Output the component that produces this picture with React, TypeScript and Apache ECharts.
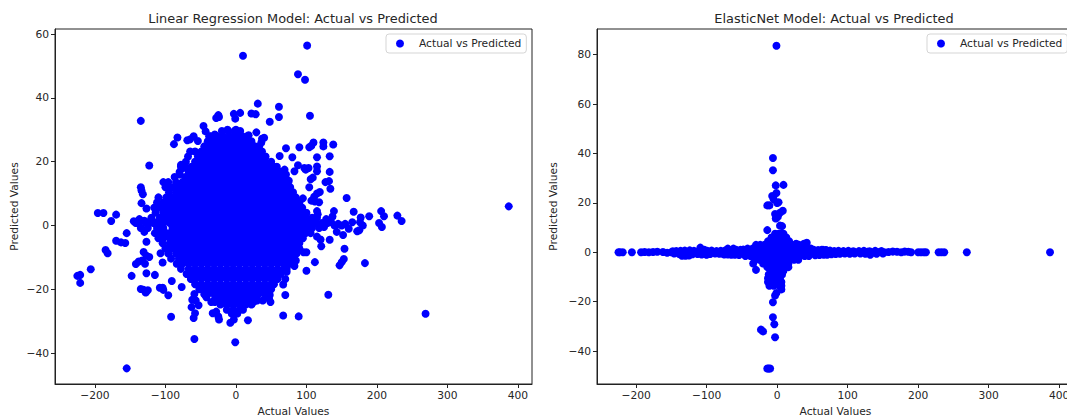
import React, { useEffect, useRef } from "react";
import * as echarts from "echarts";

const seriesName = "Actual vs Predicted";
const titles = ["Linear Regression Model: Actual vs Predicted", "ElasticNet Model: Actual vs Predicted"];
const xLabel = "Actual Values";
const yLabel = "Predicted Values";
const xTicks = [-200, -100, 0, 100, 200, 300, 400];
const yTicksLinear = [-40, -20, 0, 20, 40, 60];
const yTicksElastic = [-40, -20, 0, 20, 40, 60, 80];

// Linear regression: scattered points at the edge of the cloud [actual, predicted]
const linearOutliers = [
  [387,6],[269,-27.7],[10,53.2],[101,56.4],[88,47.4],[98,45.7],[31,38.2],[61,37.2],[61,34],[48,32.5],[105,34.4],[-135,32.8],[-123,18.8],[-155,-44.8],[-59,-35.6],[-1,-36.6],[17,-29.7],[67,-28.2],[89,-28.5],[-92,-28.6],[-60,-29],[-8,-30.5],[-3,-29.5],[131,-21.7],[70,-21.8],[183,-11.8],[100,-14.2],[112,-11.5],[157,8.6],[167,4.3],[189,2.9],[206,4.5],[210,2.9],[203,0.8],[207,-0.5],[229,3.1],[235,1.4],[177,2.5],[176,1],[180,0],[175,-1.5],[172,-1.8],[165,1],[160,-1],[150,0],[152,-3],[143,-2],[147,-12.5],[150,-11.5],[153,-10.5],[154,-7.3],[133,-4.5],[120,-4.4],[121,-6.5],[115,-3.5],[96,-8.4],[100,-8.4],[85,-11],[83,-12.7],[139,4.5],[137,2.8],[128,2],[115,4.5],[116,3.5],[125,-0.5],[140,0],[145,0.5],[155,0.5],[135,1],
  [138,25.4],[124,26],[124,24.8],[110,26],[107,25],[104,24.5],[90,24.5],[71,24.2],[62,21.8],[80,21.4],[115,21.4],[133,21.7],[88,18.9],[115,18.5],[115,17],[103,18],[97,18],[99,17.5],[83,17],[69,17.5],[71,16],[133,16.8],[109,15],[106,14.5],[127,13.6],[132,13.9],[134,11.5],[104,12],[75,14],[115,10],[119,10.5],[111,9],[95,8.5],[107,7.8],[112,7.5],[118,7.3],[90,6],
  [-196,3.9],[-188,3.9],[-170,3.4],[-177,1.4],[-155,-2.4],[-170,-4.8],[-163,-5.3],[-157,-5.5],[-185,-7.7],[-182,-8.7],[-206,-13.7],[-225,-15.8],[-221,-15.5],[-221,-18],[-148,-15.8],[-115,-15.5],[-127,-15],[-135,-19.9],[-131,-20.2],[-128,-21],[-125,-20.3],[-108,-19.5],[-104,-19.5],[-103,-20.2],[-96,-21.9],[-91,-17.4],[-77,-19.3],[-142,-12.1],[-138,-11.3],[-133,-11],[-131,-8.3],[-127,-9.5],[-123,-9.9],[-107,-8.7],[-104,-11.6],[-129,-12],[-127,-5.1],[-135,12],[-134,11],[-132,9.8],[-134,7],[-127,5.3],[-145,1.3],[-142,0.8],[-137,2],[-130,1.5],[-125,1],[-120,1],[-115,1],[-130,-2],
  [-88,25.5],[-83,27.6],[-69,26.7],[-65,27],[-46,31.2],[-43,29.5],[-28,33.7],[-25,34.6],[-24,34],[-3,35],[6,35.3],[-1,33.5],[22,35.1],[28,34.9],[29,29.2],[37,27.2],[40,27.5],[36,26],[-60,28],[-54,26.5],[-38,28],[-30,28.5],[-12,30],[0,30],[18,28.3],[-80,16],[-78,19],[-75,18],
  [-59,-21.5],[-62,-23.3],[-57,-23.5],[-53,-25],[-63,-25.6],[-58,-27.5],[-44,-21.5],[-42,-22.5],[-35,-24],[-33,-27.5],[-28,-27],[-25,-28.5],[-24,-29.5],[-30,-24],[48,-21.8],[49,-24],[47,-23],[38,-23.5],[67,-18.5],[70,-16.8],[72,-14.5],[72,-11.5],[25,-24],[30,-23.5],
];

// Linear regression: the dense cloud, row by row (predicted value, then the actual values read along it)
const linearCoreY = [29.6,28,26.4,24.8,23.2,21.6,20,18.4,16.8,15.2,13.6,12,10.4,8.8,7.2,5.6,4,2.4,0.8,-0.8,-2.4,-4,-5.6,-7.2,-8.8,-10.4,-12,-13.6,-15.2,-16.8,-18.4,-20,-21.6,-23.2,-24.8,-26.4,-27.6];
const linearCoreX = [
  [-20,-11,-2,6],
  [-36,-27,-18,-9,0,9,16],
  [-40,-31,-22,-13,-4,5,14,22],
  [-45,-36,-27,-18,-9,0,9,18,27,33],
  [-65,-58,-49,-40,-31,-22,-13,-4,5,14,23,32,37],
  [-68,-54,-45,-36,-27,-18,-9,0,9,18,27,36,42],
  [-71,-58,-49,-40,-31,-22,-13,-4,5,14,23,32,41,50],
  [-78,-72,-63,-54,-45,-36,-27,-18,-9,0,9,18,27,36,45,54,58],
  [-80,-67,-58,-49,-40,-31,-22,-13,-4,5,14,23,32,41,50,59,63],
  [-87,-72,-63,-54,-45,-36,-27,-18,-9,0,9,18,27,36,45,54,63,68],
  [-103,-96,-85,-76,-67,-58,-49,-40,-31,-22,-13,-4,5,14,23,32,41,50,59,68,74],
  [-100,-90,-81,-72,-63,-54,-45,-36,-27,-18,-9,0,9,18,27,36,45,54,63,72,77],
  [-95,-85,-76,-67,-58,-49,-40,-31,-22,-13,-4,5,14,23,32,41,50,59,68,77,81],
  [-110,-99,-90,-81,-72,-63,-54,-45,-36,-27,-18,-9,0,9,18,27,36,45,54,63,72,81,85],
  [-112,-103,-94,-85,-76,-67,-58,-49,-40,-31,-22,-13,-4,5,14,23,32,41,50,59,68,77,85,90],
  [-116,-108,-99,-90,-81,-72,-63,-54,-45,-36,-27,-18,-9,0,9,18,27,36,45,54,63,72,81,90,94],
  [-114,-103,-94,-85,-76,-67,-58,-49,-40,-31,-22,-13,-4,5,14,23,32,41,50,59,68,77,86,95,100],
  [-120,-108,-99,-90,-81,-72,-63,-54,-45,-36,-27,-18,-9,0,9,18,27,36,45,54,63,72,81,90,99,108,115],
  [-138,-128,-117,-108,-103,-94,-85,-76,-67,-58,-49,-40,-31,-22,-13,-4,5,14,23,32,41,50,59,68,77,86,95,104,113,122,130],
  [-135,-125,-112,-103,-90,-81,-72,-63,-54,-45,-36,-27,-18,-9,0,9,18,27,36,45,54,63,72,81,90,99,108,118],
  [-115,-108,-99,-94,-85,-76,-67,-58,-49,-40,-31,-22,-13,-4,5,14,23,32,41,50,59,68,77,86,95,99,106],
  [-110,-103,-94,-90,-81,-72,-63,-54,-45,-36,-27,-18,-9,0,9,18,27,36,45,54,63,72,81,90,95],
  [-104,-94,-85,-76,-67,-58,-49,-40,-31,-22,-13,-4,5,14,23,32,41,50,59,68,77,86,90],
  [-100,-90,-81,-72,-63,-54,-45,-36,-27,-18,-9,0,9,18,27,36,45,54,63,72,81,90],
  [-96,-85,-76,-67,-58,-49,-40,-31,-22,-13,-4,5,14,23,32,41,50,59,68,77,86],
  [-92,-81,-72,-63,-54,-45,-36,-27,-18,-9,0,9,18,27,36,45,54,63,72,81],
  [-84,-76,-67,-58,-49,-40,-31,-22,-13,-4,5,14,23,32,41,50,59,68,77],
  [-78,-67,-58,-49,-40,-31,-22,-13,-4,5,14,23,32,41,50,59,68,72],
  [-70,-63,-54,-45,-36,-27,-18,-9,0,9,18,27,36,45,54,63],
  [-64,-58,-49,-40,-31,-22,-13,-4,5,14,23,32,41,50,59],
  [-58,-49,-40,-31,-22,-13,-4,5,14,23,32,41,50,54],
  [-52,-45,-36,-27,-18,-9,0,9,18,27,36,45,50],
  [-45,-40,-31,-22,-13,-4,5,14,23,32,41],
  [-30,-27,-18,-9,0,9,18,27],
  [-22,-13,-4,5,14,22],
  [-13,-4,5,10],
  [-6,2],
];

// ElasticNet: the arms of the cross [actual, predicted]
const elasticOutliers = [
  [-1,83.6],[-6,38.2],[-6,33.2],[-2,27.1],[9,27.3],[-1,24],[-7,22.8],[-5,21.5],[2,20.3],[0,20],[-11,19],[-14,19],[-3,15.5],[4,16],[8,16.8],[-1,14],[-2,13.7],[1,14.5],[4,10.8],[7,10.6],[-14,9],
  [-6,-20.2],[-3,-17.5],[-1,-16.5],[6,-15],[-6,-26.3],[-4,-29.1],[-23,-31.3],[-20,-32],[-3,-34.4],[-14,-47],[-12,-47],[-10,-47],[-30,-7.1],[-34,-4.5],
  [-109,1.9],[-103,1],[-70,1.5],[-62,1.5],[-135,-1.4],[-130,-1.4],[-125,-1.3],[132,-1],[42,3.9],[38,3.5],[27,3.5],[33,2.5],[65,1],[70,0.8],[-100,-1],[-75,-0.9],
];
const elasticBandX = [387,269,237,233,229,211,208,204,200,190,186,181,176,170,164,158,152,146,140,134,128,122,116,110,104,98,92,86,80,74,68,62,56,-60,-66,-72,-78,-84,-90,-96,-102,-108,-114,-120,-126,-132,-138,-144,-150,-156,-162,-170,-176,-182,-188,-193,-206,-219,-223,-225];
const elasticBandY = [0,0,0,0,0,0,0,0,0,0,0.2,0.3,0,0.2,0.3,0.1,0,0.2,0.1,0,0.2,0.1,0,0,-0.2,0.1,0,0.2,0,0.1,0.5,0.2,-0.2,-0.2,0.3,0.2,0,0.1,0.2,-0.2,0.1,0.3,0,-0.3,-0.4,0.2,-0.2,0,0,-0.2,0.1,0.2,0.1,0,0.1,0,0,0,0,0];
// ElasticNet: points that thicken the horizontal arm just above and below zero
const elasticThickX = [148,139,131,123,116,108,101,94,87,81,75,69,63,58,52,48,44,-48,-52,-58,-63,-68,-74,-80,-86,-93,-99,-105,-111,-118,-124,-131,-137,-143,-148,150,141,133,125,118,110,103,96,89,83,77,71,66,60,54,-54,-60,-65,-70,-76,-82,-88,-95,-101,-107,-113,-120,-127,-133,-139,-146];
const elasticThickY = [0.5,0.6,0.4,0.6,0.5,0.4,0.6,0.5,0.6,0.5,0.7,0.9,1,0.9,1,1.1,1.2,1.1,1,1,0.9,0.8,0.7,0.6,0.5,0.7,0.6,0.8,0.5,0.6,0.8,0.7,0.6,0.5,0.4,-0.5,-0.6,-0.4,-0.6,-0.5,-0.5,-0.6,-0.5,-0.6,-0.7,-0.8,-1,-1,-1.1,-1.2,-1.1,-1,-1,-0.9,-0.7,-0.6,-0.5,-0.7,-0.8,-0.9,-0.7,-0.8,-1,-0.9,-0.7,-0.5];
// ElasticNet: the dense centre, row by row
const elasticCoreY = [7.5,6,4.5,3,1.5,0,-1.5,-3,-4.5,-6,-7.5,-9,-10.5,-12,-13.5];
const elasticCoreX = [
  [-3,2,6,9],
  [-8,-3,3,8,13],
  [-13,-7,-1,5,11,17],
  [-30,-24,-18,-12,-6,0,6,12,18,25,31],
  [-42,-35,-28,-21,-14,-7,0,7,14,21,28,35,42,48],
  [-56,-50,-44,-37,-30,-23,-16,-9,-2,5,12,19,26,33,40,46,52,56],
  [-45,-38,-31,-24,-17,-10,-3,4,11,18,25,32,39,45],
  [-32,-25,-18,-11,-4,3,10,17,24,30],
  [-20,-14,-8,-2,4,10,16],
  [-14,-8,-2,4,10,16],
  [-9,-3,3,9],
  [-12,-7,-1,5,7],
  [-13,-8,-2,4],
  [-13,-7,-1,5,6],
  [-11,-5,3,6],
];

const fromRows = (ys: number[], xs: number[][]) => ys.flatMap((y, i) => xs[i].map((x) => [x, y]));
const linearPoints = [...fromRows(linearCoreY, linearCoreX), ...linearOutliers];
const elasticPoints = [
  ...elasticBandX.map((x, i) => [x, elasticBandY[i]]),
  ...elasticThickX.map((x, i) => [x, elasticThickY[i]]),
  ...fromRows(elasticCoreY, elasticCoreX),
  ...elasticOutliers,
];

const FONT = "DejaVu Sans";
const INK = "#262626";
const minusLabel = (v: number) => String(v).replace("-", "\u2212");

function makeAxis(type: "x" | "y", min: number, max: number, ticks: number[], name: string) {
  return {
    type: "value",
    min,
    max,
    name,
    nameLocation: "middle",
    nameGap: type === "x" ? 21 : 0,
    nameTextStyle: { fontFamily: FONT, fontSize: 10.7, color: INK },
    splitLine: { show: false },
    axisLine: { show: true, onZero: false, lineStyle: { color: "#222", width: 1 } },
    axisTick: { show: true, length: 4, customValues: ticks, lineStyle: { color: "#222", width: 1 } },
    axisLabel: { customValues: ticks, formatter: minusLabel, fontFamily: FONT, fontSize: 10.7, color: INK, margin: 6 },
  };
}

export default function App() {
  const ref = useRef<HTMLDivElement>(null);
  useEffect(() => {
    document.body.style.margin = "0";
    document.body.style.overflow = "hidden";
    const chart = echarts.init(ref.current!, undefined, { renderer: "svg" });
    const grids = [
      { left: 55, top: 29, width: 477, height: 355 },
      { left: 597, top: 29, width: 477, height: 355 },
    ];
    const xAxes = [makeAxis("x", -256.7, 420, xTicks, xLabel), makeAxis("x", -255.5, 421, xTicks, xLabel)].map((a, i) => ({
      ...a,
      gridIndex: i,
      position: "bottom",
    }));
    const yAxes = [makeAxis("y", -49.7, 61.6, yTicksLinear, yLabel), makeAxis("y", -53.3, 90.4, yTicksElastic, yLabel)].map((a, i) => ({
      ...a,
      gridIndex: i,
      position: "left",
      nameGap: i === 0 ? 35 : 38,
    }));
    const legendBase = {
      data: [{ name: seriesName, icon: "circle" }],
      orient: "horizontal",
      top: 34,
      itemWidth: 28,
      itemHeight: 8,
      padding: [4, 5, 4, 10],
      borderColor: "#d5d5d5",
      borderWidth: 1,
      borderRadius: 3,
      backgroundColor: "rgba(255,255,255,0.8)",
      textStyle: { fontFamily: FONT, fontSize: 10.7, color: INK },
      selectedMode: false,
      z: 10,
    };
    chart.setOption({
      animation: false,
      backgroundColor: "#fff",
      title: titles.map((text, i) => ({
        text,
        left: i === 0 ? 288 : 829,
        top: 7,
        textAlign: "center",
        textStyle: { fontFamily: FONT, fontSize: 12.9, fontWeight: "normal", color: INK },
      })),
      grid: grids.map((g) => ({ ...g, outerBoundsMode: "none", show: true, borderColor: "#222", borderWidth: 1, backgroundColor: "transparent" })),
      xAxis: xAxes,
      yAxis: yAxes,
      legend: [
        { ...legendBase, left: 386 },
        { ...legendBase, left: 927 },
      ],
      series: [linearPoints, elasticPoints].map((data, i) => ({
        type: "scatter",
        name: seriesName,
        xAxisIndex: i,
        yAxisIndex: i,
        data,
        symbol: "circle",
        symbolSize: 8,
        large: false,
        itemStyle: { color: "#0000ff", opacity: 1 },
      })),
    });
    return () => chart.dispose();
  }, []);
  return <div ref={ref} style={{ width: 1067, height: 416 }} />;
}
